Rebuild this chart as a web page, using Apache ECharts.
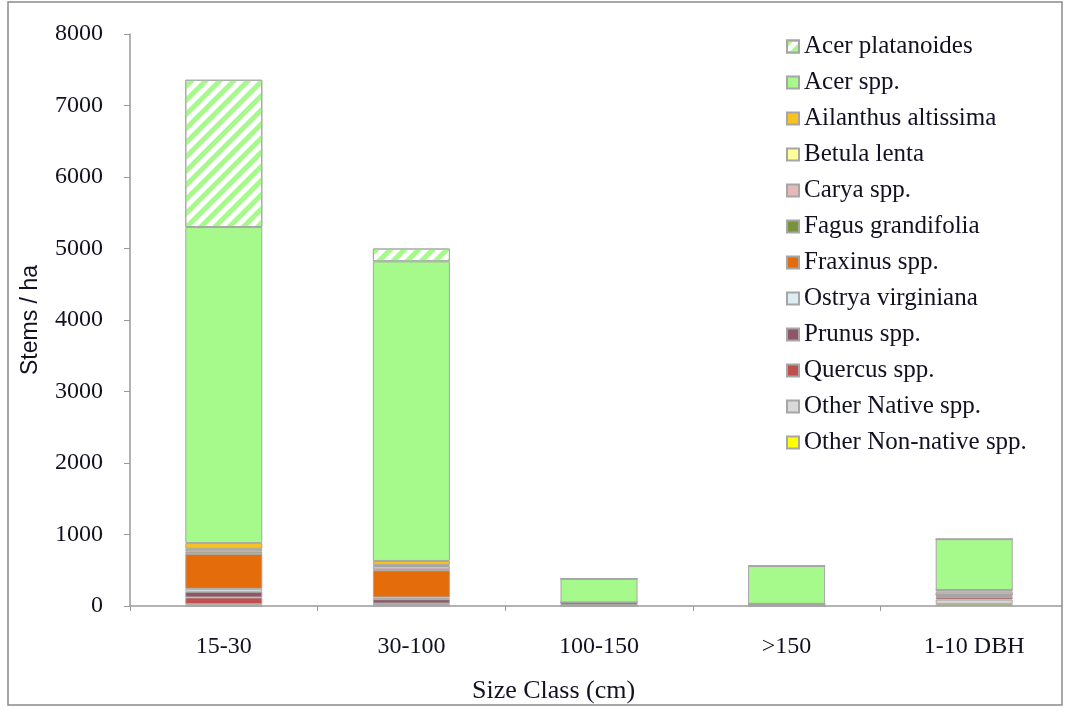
<!DOCTYPE html>
<html>
<head>
<meta charset="utf-8">
<script src="https://cdn.jsdelivr.net/npm/echarts@6/dist/echarts.min.js"></script>
<style>
html,body{margin:0;padding:0;background:#fff;}
#chart{width:1068px;height:711px;}
</style>
</head>
<body>
<div id="chart"></div>
<script>
const categories = ['15-30', '30-100', '100-150', '>150', '1-10 DBH'];
const yTicks = [0, 1000, 2000, 3000, 4000, 5000, 6000, 7000, 8000];

// stacked from bottom to top
const otherNonNative = [0, 0, 0, 0, 30];
const otherNative    = [25, 25, 10, 0, 60];
const quercus        = [95, 10, 5, 0, 35];
const prunus         = [80, 60, 35, 0, 15];
const ostrya         = [40, 25, 0, 0, 20];
const fraxinus       = [490, 380, 0, 30, 0];
const fagus          = [30, 10, 0, 0, 0];
const carya          = [30, 50, 0, 0, 40];
const betula         = [10, 15, 0, 0, 25];
const ailanthus      = [80, 55, 0, 0, 0];
const acerSpp        = [4420, 4190, 330, 530, 710];
const acerPlatanoides= [2060, 180, 0, 0, 0];

const seriesDefs = [
  {name: 'Other Non-native spp.', data: otherNonNative, color: '#FFFF00'},
  {name: 'Other Native spp.', data: otherNative, color: '#D9D9D9'},
  {name: 'Quercus spp.', data: quercus, color: '#C0504D'},
  {name: 'Prunus spp.', data: prunus, color: '#8E5666'},
  {name: 'Ostrya virginiana', data: ostrya, color: '#DBEEF4'},
  {name: 'Fraxinus spp.', data: fraxinus, color: '#E46C0A'},
  {name: 'Fagus grandifolia', data: fagus, color: '#77933C'},
  {name: 'Carya spp.', data: carya, color: '#E6B9B8'},
  {name: 'Betula lenta', data: betula, color: '#FFFF99'},
  {name: 'Ailanthus altissima', data: ailanthus, color: '#F9C31F'},
  {name: 'Acer spp.', data: acerSpp, color: '#A6FA8C'},
  {name: 'Acer platanoides', data: acerPlatanoides, color: '#FFFFFF', hatch: '#A6FA8C'}
];

const serif = '"Liberation Serif", "Times New Roman", serif';
const textColor = '#111122';

const series = seriesDefs.map(s => {
  const itemStyle = {color: s.color, borderColor: '#A6A6A6', borderWidth: 1};
  if (s.hatch) {
    itemStyle.decal = {
      symbol: 'rect',
      color: s.hatch,
      dashArrayX: [1, 0],
      dashArrayY: [5, 5],
      rotation: -Math.PI / 4
    };
  }
  return {
    name: s.name,
    type: 'bar',
    stack: 'total',
    barWidth: 77,
    data: s.data,
    itemStyle: itemStyle,
    emphasis: {disabled: true}
  };
});

const chart = echarts.init(document.getElementById('chart'), null, {renderer: 'canvas'});
chart.setOption({
  animation: false,
  backgroundColor: '#ffffff',
  grid: {left: 130, top: 34, width: 946, height: 572, containLabel: false},
  legend: {
    orient: 'vertical',
    left: 781,
    top: 29,
    itemWidth: 12,
    itemHeight: 12,
    itemGap: 11,
    icon: 'rect',
    data: seriesDefs.map(s => s.name).reverse(),
    textStyle: {fontFamily: serif, fontSize: 25, lineHeight: 25, color: textColor}
  },
  xAxis: {
    type: 'category',
    data: categories,
    axisLine: {lineStyle: {color: '#9A9A9A', width: 1.5}},
    axisTick: {show: true, length: 5, lineStyle: {color: '#9A9A9A'}},
    axisLabel: {fontFamily: serif, fontSize: 24, color: textColor, margin: 29}
  },
  yAxis: {
    type: 'value',
    min: yTicks[0],
    max: yTicks[yTicks.length - 1],
    interval: 1000,
    splitLine: {show: false},
    axisLine: {show: true, lineStyle: {color: '#9A9A9A', width: 1.5}},
    axisTick: {show: true, length: 6, lineStyle: {color: '#9A9A9A'}},
    axisLabel: {fontFamily: serif, fontSize: 24, color: textColor, margin: 27, formatter: v => String(v)},
    name: 'Stems / ha',
    nameLocation: 'middle',
    nameGap: 88,
    nameRotate: 90,
    nameTextStyle: {fontFamily: '"Liberation Sans Narrow", "Liberation Sans", sans-serif', fontSize: 23, color: textColor}
  },
  graphic: [
    {type: 'text', left: 472, top: 678, style: {text: 'Size Class (cm)', font: '26px ' + serif, fill: textColor}},
    {type: 'rect', z: 100, shape: {x: 1062, y: 0, width: 10, height: 711}, style: {fill: '#ffffff'}, silent: true},
    {type: 'rect', z: 101, shape: {x: 8, y: 2, width: 1054, height: 703}, style: {fill: 'none', stroke: '#8A8A8A', lineWidth: 1.5}, silent: true}
  ],
  series: series
});
</script>
</body>
</html>
